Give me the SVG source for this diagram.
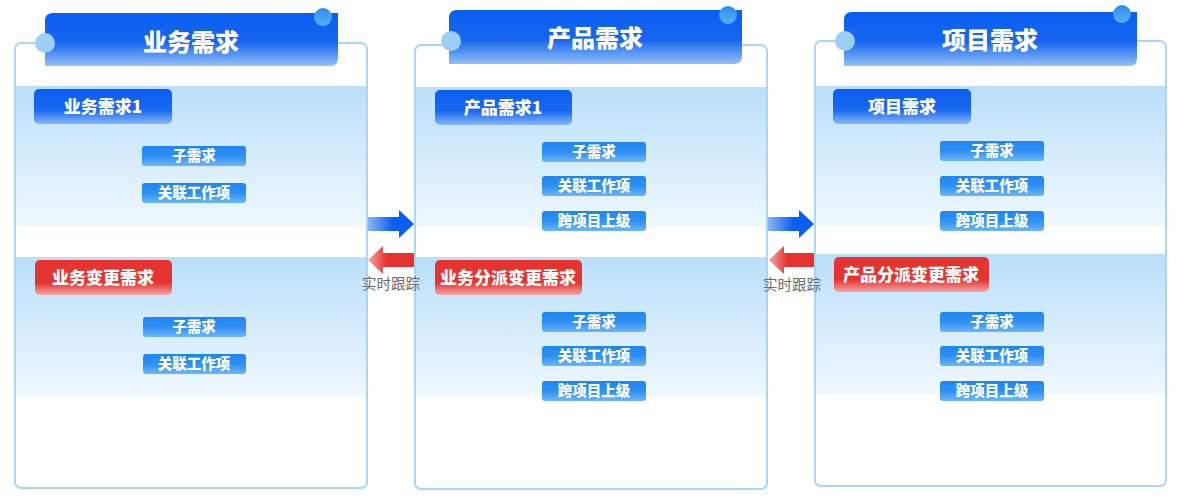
<svg xmlns="http://www.w3.org/2000/svg" width="1184" height="502" viewBox="0 0 1184 502">
<defs>
<linearGradient id="gTab" x1="0" y1="0" x2="0" y2="1"><stop offset="0" stop-color="#0a5ef0"/><stop offset="0.55" stop-color="#1766f0"/><stop offset="1" stop-color="#92c0f8"/></linearGradient>
<linearGradient id="gNode" x1="0" y1="0" x2="0" y2="1"><stop offset="0" stop-color="#0a5ef0"/><stop offset="0.6" stop-color="#1a68f0"/><stop offset="1" stop-color="#86b6f8"/></linearGradient>
<linearGradient id="gRed" x1="0" y1="0" x2="0" y2="1"><stop offset="0" stop-color="#e6332f"/><stop offset="0.65" stop-color="#e5342f"/><stop offset="1" stop-color="#f2a6a6"/></linearGradient>
<linearGradient id="gItem" x1="0" y1="0" x2="0" y2="1"><stop offset="0" stop-color="#1f86f0"/><stop offset="0.5" stop-color="#2f90f2"/><stop offset="1" stop-color="#6cb6fa"/></linearGradient>
<linearGradient id="gBand" x1="0" y1="0" x2="0" y2="1"><stop offset="0" stop-color="#badff9"/><stop offset="1" stop-color="#f0f8ff"/></linearGradient>
<linearGradient id="gDot" x1="0" y1="0" x2="0" y2="1"><stop offset="0" stop-color="#2a8cf0"/><stop offset="1" stop-color="#5eaef6"/></linearGradient>
<linearGradient id="gBlueArrow" x1="0" y1="0" x2="1" y2="0"><stop offset="0" stop-color="#8ab6f6"/><stop offset="0.55" stop-color="#0a5ef0"/><stop offset="1" stop-color="#0a5ef0"/></linearGradient>
<linearGradient id="gRedArrow" x1="0" y1="0" x2="1" y2="0"><stop offset="0" stop-color="#f2a8a8"/><stop offset="0.4" stop-color="#e6332f"/><stop offset="1" stop-color="#e6332f"/></linearGradient>
</defs>
<style>
.frame{fill:#fff;stroke:#a8d6f7;stroke-width:2}
.band{fill:url(#gBand)}
.tab{fill:url(#gTab)}
.ldot{fill:#9dcff5}
.rdot{fill:url(#gDot)}
.title{font-family:"Noto Sans CJK SC","Noto Sans",sans-serif;font-weight:900;font-size:24px;fill:#fff;text-anchor:middle}
.node{fill:url(#gNode)}
.rnode{fill:url(#gRed)}
.ntext{font-family:"Noto Sans CJK SC","Noto Sans",sans-serif;font-weight:900;font-size:17px;fill:#fff;text-anchor:middle}
.item{fill:url(#gItem)}
.itext{font-family:"Noto Sans CJK SC","Noto Sans",sans-serif;font-weight:900;font-size:14.5px;fill:#fff;text-anchor:middle}
.lbl{font-family:"Noto Sans CJK SC","Noto Sans",sans-serif;font-size:14.5px;fill:#6b6b6b;text-anchor:middle}
</style>

<g id="panel1">
<rect class="frame" x="15" y="43" width="352" height="445" rx="6"/>
<rect class="band" x="16" y="86" width="350" height="140"/>
<rect class="band" x="16" y="257" width="350" height="140"/>
<path class="tab" d="M53 13 H338 V58 Q338 66 330 66 H45 V21 Q45 13 53 13 Z"/>
<circle class="rdot" cx="323" cy="17" r="9"/>
<circle class="ldot" cx="45" cy="43" r="10"/>
<text class="title" x="191" y="51">业务需求</text>
</g>
<g id="p1-node1"><rect class="node" x="34" y="89" width="138" height="35" rx="5"/><text class="ntext" x="103" y="113">业务需求1</text></g>
<g id="p1-item1"><rect class="item" x="142" y="146" width="104" height="20" rx="3"/><text class="itext" x="194" y="161">子需求</text></g>
<g id="p1-item2"><rect class="item" x="142" y="183" width="104" height="20" rx="3"/><text class="itext" x="194" y="198">关联工作项</text></g>
<g id="p1-node2"><rect class="rnode" x="35" y="260" width="137" height="35" rx="5"/><text class="ntext" x="103" y="284">业务变更需求</text></g>
<g id="p1-item3"><rect class="item" x="143" y="317" width="103" height="20" rx="3"/><text class="itext" x="194" y="332">子需求</text></g>
<g id="p1-item4"><rect class="item" x="143" y="354" width="103" height="20" rx="3"/><text class="itext" x="194" y="369">关联工作项</text></g>

<g id="panel2">
<rect class="frame" x="415" y="45" width="352" height="444" rx="6"/>
<rect class="band" x="416" y="87" width="350" height="140"/>
<rect class="band" x="416" y="257" width="350" height="140"/>
<path class="tab" d="M457 10 H742 V56 Q742 64 734 64 H449 V18 Q449 10 457 10 Z"/>
<circle class="rdot" cx="728" cy="15" r="9"/>
<circle class="ldot" cx="451" cy="41" r="10"/>
<text class="title" x="595" y="47">产品需求</text>
</g>
<g id="p2-node1"><rect class="node" x="435" y="90" width="137" height="35" rx="5"/><text class="ntext" x="503" y="114">产品需求1</text></g>
<g id="p2-item1"><rect class="item" x="542" y="142" width="104" height="20" rx="3"/><text class="itext" x="594" y="157">子需求</text></g>
<g id="p2-item2"><rect class="item" x="542" y="176" width="104" height="20" rx="3"/><text class="itext" x="594" y="191">关联工作项</text></g>
<g id="p2-item3"><rect class="item" x="542" y="211" width="104" height="20" rx="3"/><text class="itext" x="594" y="226">跨项目上级</text></g>
<g id="p2-node2"><rect class="rnode" x="435" y="260" width="147" height="35" rx="5"/><text class="ntext" x="508" y="284">业务分派变更需求</text></g>
<g id="p2-item4"><rect class="item" x="542" y="312" width="104" height="20" rx="3"/><text class="itext" x="594" y="327">子需求</text></g>
<g id="p2-item5"><rect class="item" x="542" y="346" width="104" height="20" rx="3"/><text class="itext" x="594" y="361">关联工作项</text></g>
<g id="p2-item6"><rect class="item" x="542" y="381" width="104" height="20" rx="3"/><text class="itext" x="594" y="396">跨项目上级</text></g>

<g id="panel3">
<rect class="frame" x="815" y="41" width="351" height="445" rx="6"/>
<rect class="band" x="816" y="86" width="349" height="140"/>
<rect class="band" x="816" y="254" width="349" height="140"/>
<path class="tab" d="M852 12 H1137 V58 Q1137 66 1129 66 H844 V20 Q844 12 852 12 Z"/>
<circle class="rdot" cx="1122" cy="14" r="9"/>
<circle class="ldot" cx="845" cy="41" r="10"/>
<text class="title" x="990" y="49">项目需求</text>
</g>
<g id="p3-node1"><rect class="node" x="833" y="89" width="138" height="35" rx="5"/><text class="ntext" x="902" y="113">项目需求</text></g>
<g id="p3-item1"><rect class="item" x="940" y="141" width="104" height="20" rx="3"/><text class="itext" x="992" y="156">子需求</text></g>
<g id="p3-item2"><rect class="item" x="940" y="176" width="104" height="20" rx="3"/><text class="itext" x="992" y="191">关联工作项</text></g>
<g id="p3-item3"><rect class="item" x="940" y="211" width="104" height="20" rx="3"/><text class="itext" x="992" y="226">跨项目上级</text></g>
<g id="p3-node2"><rect class="rnode" x="834" y="257" width="155" height="35" rx="5"/><text class="ntext" x="911" y="281">产品分派变更需求</text></g>
<g id="p3-item4"><rect class="item" x="940" y="312" width="104" height="20" rx="3"/><text class="itext" x="992" y="327">子需求</text></g>
<g id="p3-item5"><rect class="item" x="940" y="346" width="104" height="20" rx="3"/><text class="itext" x="992" y="361">关联工作项</text></g>
<g id="p3-item6"><rect class="item" x="940" y="381" width="104" height="20" rx="3"/><text class="itext" x="992" y="396">跨项目上级</text></g>

<g id="connectors">
<path fill="url(#gBlueArrow)" d="M368 217 H399 V210 L414 224 L399 238 V231 H368 Z"/>
<path fill="url(#gRedArrow)" d="M414 253 H383 V246 L368 260 L383 274 V267 H414 Z"/>
<text class="lbl" x="391" y="289">实时跟踪</text>
<path fill="url(#gBlueArrow)" d="M768 217 H799 V210 L814 224 L799 238 V231 H768 Z"/>
<path fill="url(#gRedArrow)" d="M814 253 H784 V246 L769 260 L784 274 V267 H814 Z"/>
<text class="lbl" x="792" y="290">实时跟踪</text>
</g>
</svg>
